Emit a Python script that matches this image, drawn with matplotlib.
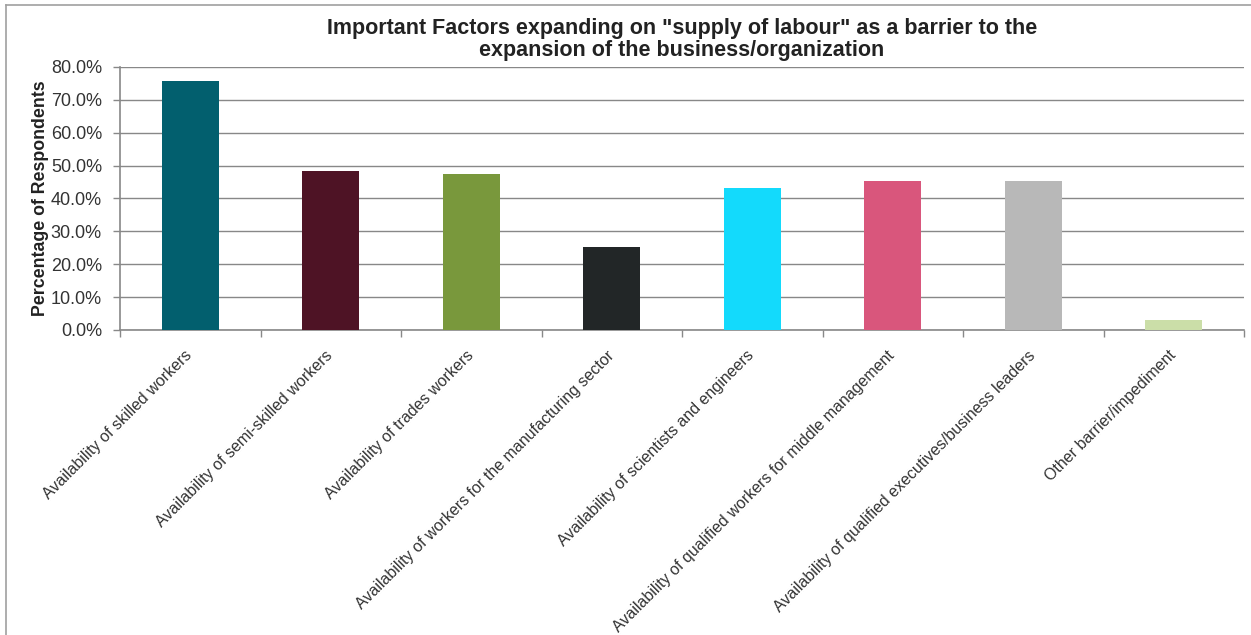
import matplotlib.pyplot as plt
from matplotlib.lines import Line2D
from matplotlib.ticker import FuncFormatter, FixedLocator
from matplotlib.transforms import ScaledTranslation
import numpy as np

plt.rcParams['font.family'] = ['Liberation Sans', 'DejaVu Sans']

categories = [
    "Availability of skilled workers",
    "Availability of semi-skilled workers",
    "Availability of trades workers",
    "Availability of workers for the manufacturing sector",
    "Availability of scientists and engineers",
    "Availability of qualified workers for middle management",
    "Availability of qualified executives/business leaders",
    "Other barrier/impediment",
]
values = [75.7, 48.4, 47.5, 25.2, 43.2, 45.3, 45.3, 3.0]
colors = ["#025f6e", "#4e1325", "#79983c", "#222627",
          "#13dafc", "#d9567c", "#b8b8b8", "#cbdea8"]

title = ('Important Factors expanding on "supply of labour" as a barrier to the\n'
         'expansion of the business/organization')

fig = plt.figure(figsize=(12.51, 6.35), dpi=100)
ax = fig.add_axes([120/1251, 1 - 330/635, 1124/1251, 263/635])

x = np.arange(len(categories))
ax.bar(x, values, width=0.405, color=colors, zorder=3)

ax.set_xlim(-0.5, len(categories) - 0.5)
ax.set_ylim(0, 80)
ax.set_yticks(np.arange(0, 81, 10))
ax.yaxis.set_major_formatter(FuncFormatter(lambda v, p: "%.1f%%" % v))
ax.grid(axis='y', color='#888888', linewidth=1.0, zorder=0)

# category labels end at bar centres, tick marks at category boundaries
ax.set_xticks(x)
ax.set_xticklabels(categories, rotation=45, ha='right', va='bottom',
                   rotation_mode='anchor', fontsize=11.5, color='#333333')
ax.tick_params(axis='x', length=0, pad=19)
ax.xaxis.set_minor_locator(FixedLocator(np.arange(-0.5, len(categories), 1.0)))
ax.tick_params(axis='x', which='minor', length=5, color='#888888', width=1)
ax.tick_params(axis='y', labelsize=13, length=5, color='#888888', width=1,
               labelcolor='#333333', pad=8)

# nudge the rotated labels a few pixels right
offset = ScaledTranslation(5/100, -2/100, fig.dpi_scale_trans)
for lbl in ax.get_xticklabels():
    lbl.set_transform(lbl.get_transform() + offset)

for s in ['top', 'right']:
    ax.spines[s].set_visible(False)
for s in ['left', 'bottom']:
    ax.spines[s].set_color('#888888')
    ax.spines[s].set_linewidth(1.2)

ax.set_ylabel("Percentage of Respondents", fontsize=12.8, fontweight='bold',
              color='#222222', labelpad=1.5)
ax.set_title(title, fontsize=15.5, fontweight='bold', color='#222222',
             linespacing=1.05, pad=8)

# outer chart frame (left and top edges visible)
fig.add_artist(Line2D([6/1251, 6/1251], [0, 1 - 5/635], transform=fig.transFigure,
                      color='#a0a0a0', linewidth=1.2))
fig.add_artist(Line2D([6/1251, 1], [1 - 5/635, 1 - 5/635], transform=fig.transFigure,
                      color='#a0a0a0', linewidth=1.2))

fig.savefig("out.png", dpi=100)
